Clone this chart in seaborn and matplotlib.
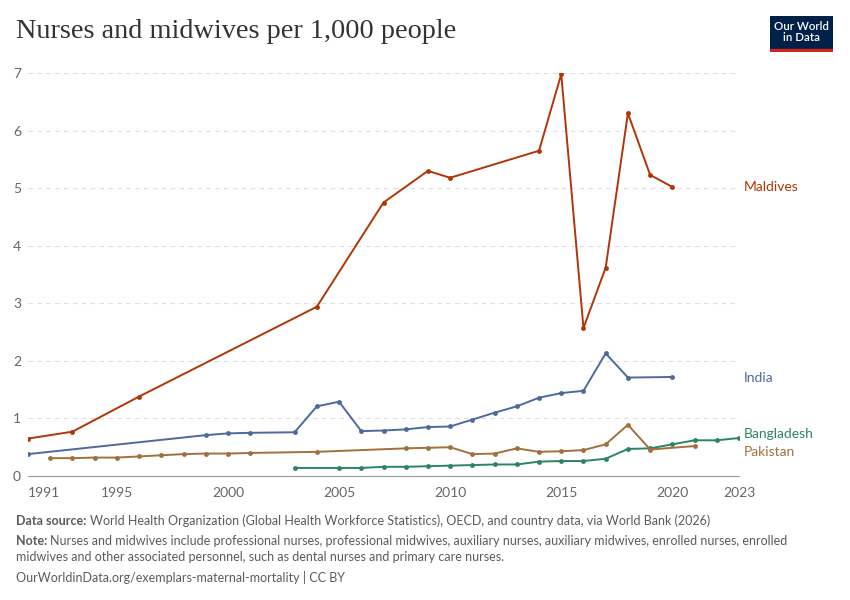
import matplotlib
matplotlib.use("Agg")
import matplotlib.pyplot as plt
import pandas as pd
import seaborn as sns
from matplotlib.patches import Rectangle

# Data (nurses and midwives per 1,000 people)
maldives_years = [1991, 1993, 1996, 2004, 2007, 2009, 2010, 2014, 2015, 2016, 2017, 2018, 2019, 2020]
maldives_vals = [0.65, 0.77, 1.38, 2.94, 4.75, 5.30, 5.18, 5.65, 6.98, 2.57, 3.62, 6.30, 5.23, 5.02]

india_years = [1991, 1999, 2000, 2001, 2003, 2004, 2005, 2006, 2007, 2008, 2009, 2010,
               2011, 2012, 2013, 2014, 2015, 2016, 2017, 2018, 2020]
india_vals = [0.38, 0.71, 0.74, 0.75, 0.76, 1.21, 1.29, 0.78, 0.79, 0.81, 0.85, 0.86,
              0.98, 1.10, 1.21, 1.36, 1.44, 1.48, 2.13, 1.71, 1.72]

pakistan_years = [1992, 1993, 1994, 1995, 1996, 1997, 1998, 1999, 2000, 2001, 2004, 2008,
                  2009, 2010, 2011, 2012, 2013, 2014, 2015, 2016, 2017, 2018, 2019, 2021]
pakistan_vals = [0.31, 0.31, 0.32, 0.32, 0.34, 0.36, 0.38, 0.39, 0.39, 0.40, 0.42, 0.48,
                 0.49, 0.50, 0.38, 0.39, 0.48, 0.42, 0.43, 0.45, 0.55, 0.89, 0.46, 0.52]

bangladesh_years = [2003, 2005, 2006, 2007, 2008, 2009, 2010, 2011, 2012, 2013, 2014, 2015,
                    2016, 2017, 2018, 2019, 2020, 2021, 2022, 2023]
bangladesh_vals = [0.14, 0.14, 0.14, 0.16, 0.16, 0.17, 0.18, 0.19, 0.20, 0.20, 0.25, 0.26,
                   0.26, 0.30, 0.47, 0.48, 0.55, 0.62, 0.62, 0.66]

countries = ["Maldives", "India", "Bangladesh", "Pakistan"]
colors = {"Maldives": "#b13507", "India": "#4c6a9c",
          "Bangladesh": "#2c8465", "Pakistan": "#a2703d"}
label_shift = {"Maldives": 0.0, "India": -0.02, "Bangladesh": 0.07, "Pakistan": -0.10}

x_ticks = [1991, 1995, 2000, 2005, 2010, 2015, 2020, 2023]

frames = []
for name, yrs, vals in [("Maldives", maldives_years, maldives_vals),
                        ("India", india_years, india_vals),
                        ("Pakistan", pakistan_years, pakistan_vals),
                        ("Bangladesh", bangladesh_years, bangladesh_vals)]:
    frames.append(pd.DataFrame({"year": yrs, "value": vals, "country": name}))
df = pd.concat(frames, ignore_index=True)

sns.set_style("white")
plt.rcParams["font.family"] = ["Lato", "DejaVu Sans"]

fig = plt.figure(figsize=(8.5, 6), dpi=100)
ax = fig.add_axes([28 / 850, 1 - 476 / 600, (739 - 28) / 850, (476 - 73) / 600])

sns.lineplot(data=df, x="year", y="value", hue="country", hue_order=countries,
             palette=colors, marker="o", markersize=3.5, markeredgewidth=0,
             linewidth=1.4, legend=False, ax=ax)

ax.set_xlim(1991, 2023)
ax.set_ylim(0, 7)
ax.set_xticks(x_ticks)
ax.set_xticklabels([str(t) for t in x_ticks])
ax.set_yticks(range(0, 8))
ax.set_xlabel("")
ax.set_ylabel("")

for s in ["top", "right", "left"]:
    ax.spines[s].set_visible(False)
ax.spines["bottom"].set_color("#999999")
ax.spines["bottom"].set_linewidth(0.8)

ax.yaxis.grid(True, color="#dddddd", linestyle=(0, (4, 4)), linewidth=0.8)
ax.xaxis.grid(False)
ax.tick_params(axis="x", colors="#999999", length=5, width=0.8, labelcolor="#666666",
               labelsize=10, pad=3)
ax.tick_params(axis="y", length=0, labelcolor="#666666", labelsize=10, pad=5)
ax.get_xticklabels()[0].set_horizontalalignment("left")

# Line labels on the right
last = df.sort_values("year").groupby("country").last()
for name in countries:
    ax.text(2023.2, last.loc[name, "value"] + label_shift[name], name,
            color=colors[name], fontsize=10, va="center", ha="left", clip_on=False)

# Title
fig.text(16 / 850, 1 - 32 / 600, "Nurses and midwives per 1,000 people",
         family=["Liberation Serif", "DejaVu Serif"], fontsize=20.3, color="#333333",
         va="center", ha="left")

# Logo
logo_ax = fig.add_axes([770 / 850, 1 - 52 / 600, 63 / 850, 36 / 600])
logo_ax.set_xlim(0, 1)
logo_ax.set_ylim(0, 1)
logo_ax.axis("off")
logo_ax.add_patch(Rectangle((0, 0), 1, 1, color="#002147"))
logo_ax.add_patch(Rectangle((0, 0), 1, 0.08, color="#ce261e"))
logo_ax.text(0.5, 0.55, "Our World\nin Data", color="white", fontsize=8.3,
             fontweight="semibold", ha="center", va="center", linespacing=1.0)

# Footer
grey = "#5b5b5b"
fig.text(16 / 850, 1 - 521 / 600, "Data source:", fontsize=9, color=grey,
         fontweight="bold", va="center")
fig.text(90 / 850, 1 - 521 / 600,
         "World Health Organization (Global Health Workforce Statistics), OECD, and country data, via World Bank (2026)",
         fontsize=9, color=grey, va="center")
fig.text(16 / 850, 1 - 541 / 600, "Note:", fontsize=9, color=grey,
         fontweight="bold", va="center")
fig.text(50 / 850, 1 - 541 / 600,
         "Nurses and midwives include professional nurses, professional midwives, auxiliary nurses, auxiliary midwives, enrolled nurses, enrolled",
         fontsize=9, color=grey, va="center")
fig.text(16 / 850, 1 - 557 / 600,
         "midwives and other associated personnel, such as dental nurses and primary care nurses.",
         fontsize=9, color=grey, va="center")
fig.text(16 / 850, 1 - 577 / 600,
         "OurWorldinData.org/exemplars-maternal-mortality | CC BY",
         fontsize=9, color=grey, va="center")

fig.savefig("out.png", dpi=100)
